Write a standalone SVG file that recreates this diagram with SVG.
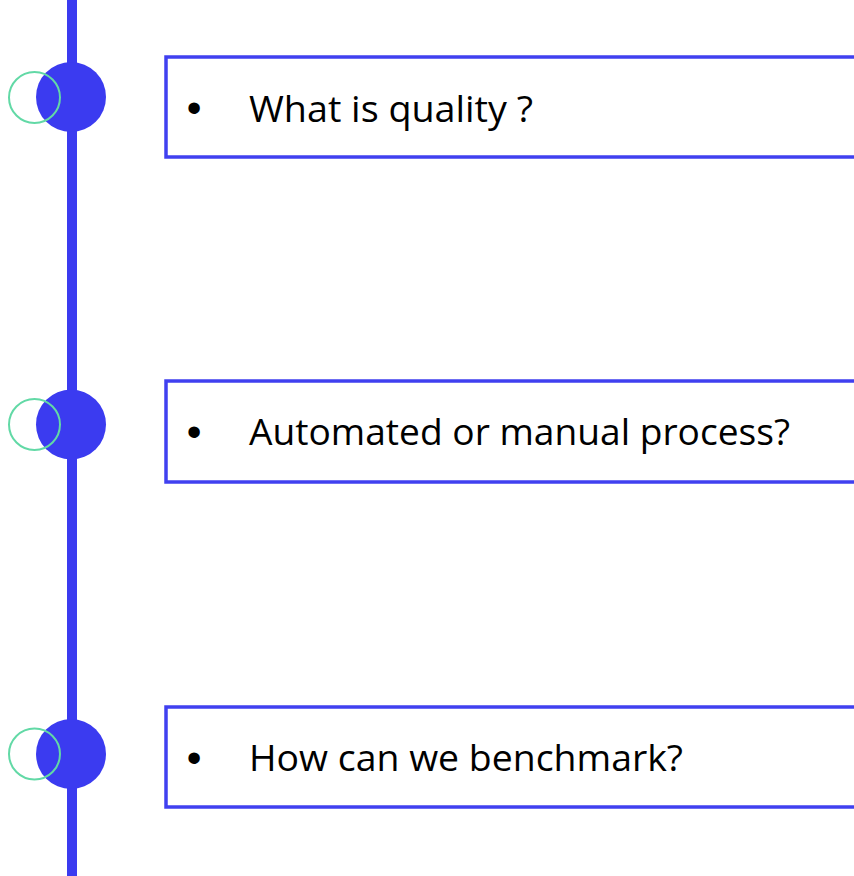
<svg xmlns="http://www.w3.org/2000/svg" width="854" height="876" viewBox="0 0 854 876">
  <style>
    .spine { stroke: #3b3bf0; stroke-width: 10; fill: none; }
    .dot { fill: #3b3bf0; }
    .ring { fill: none; stroke: #62d9a6; stroke-width: 2; }
    .box { fill: #ffffff; stroke: #4040f0; stroke-width: 3.5; }
    .label { font-family: "Open Sans", "Liberation Sans", sans-serif; font-size: 36px; fill: #000000; }
    .bullet { font-family: "Liberation Sans", Arial, sans-serif; font-size: 42px; fill: #000000; }
  </style>
  <rect width="854" height="876" fill="#ffffff"/>

  <!-- timeline spine -->
  <g id="connectors">
    <line class="spine" x1="72" y1="0" x2="72" y2="876"/>
  </g>

  <!-- step 1 -->
  <g id="step1">
    <circle class="dot" cx="71" cy="97" r="35"/>
    <circle class="ring" cx="34.5" cy="97.5" r="25.5"/>
    <rect class="box" x="166" y="57" width="700" height="100"/>
    <text class="bullet" x="194" y="122" text-anchor="middle">•</text>
    <text class="label" x="249" y="121.5" textLength="284" lengthAdjust="spacingAndGlyphs">What is quality ?</text>
  </g>

  <!-- step 2 -->
  <g id="step2">
    <circle class="dot" cx="71" cy="424.5" r="35"/>
    <circle class="ring" cx="34.5" cy="424.5" r="25.5"/>
    <rect class="box" x="166" y="381" width="700" height="101"/>
    <text class="bullet" x="194" y="445.5" text-anchor="middle">•</text>
    <text class="label" x="249" y="445" textLength="541" lengthAdjust="spacingAndGlyphs">Automated or manual process?</text>
  </g>

  <!-- step 3 -->
  <g id="step3">
    <circle class="dot" cx="71" cy="754" r="35"/>
    <circle class="ring" cx="34.5" cy="754" r="25.5"/>
    <rect class="box" x="166" y="707" width="700" height="100"/>
    <text class="bullet" x="194" y="771.5" text-anchor="middle">•</text>
    <text class="label" x="249" y="771" textLength="434" lengthAdjust="spacingAndGlyphs">How can we benchmark?</text>
  </g>
</svg>
